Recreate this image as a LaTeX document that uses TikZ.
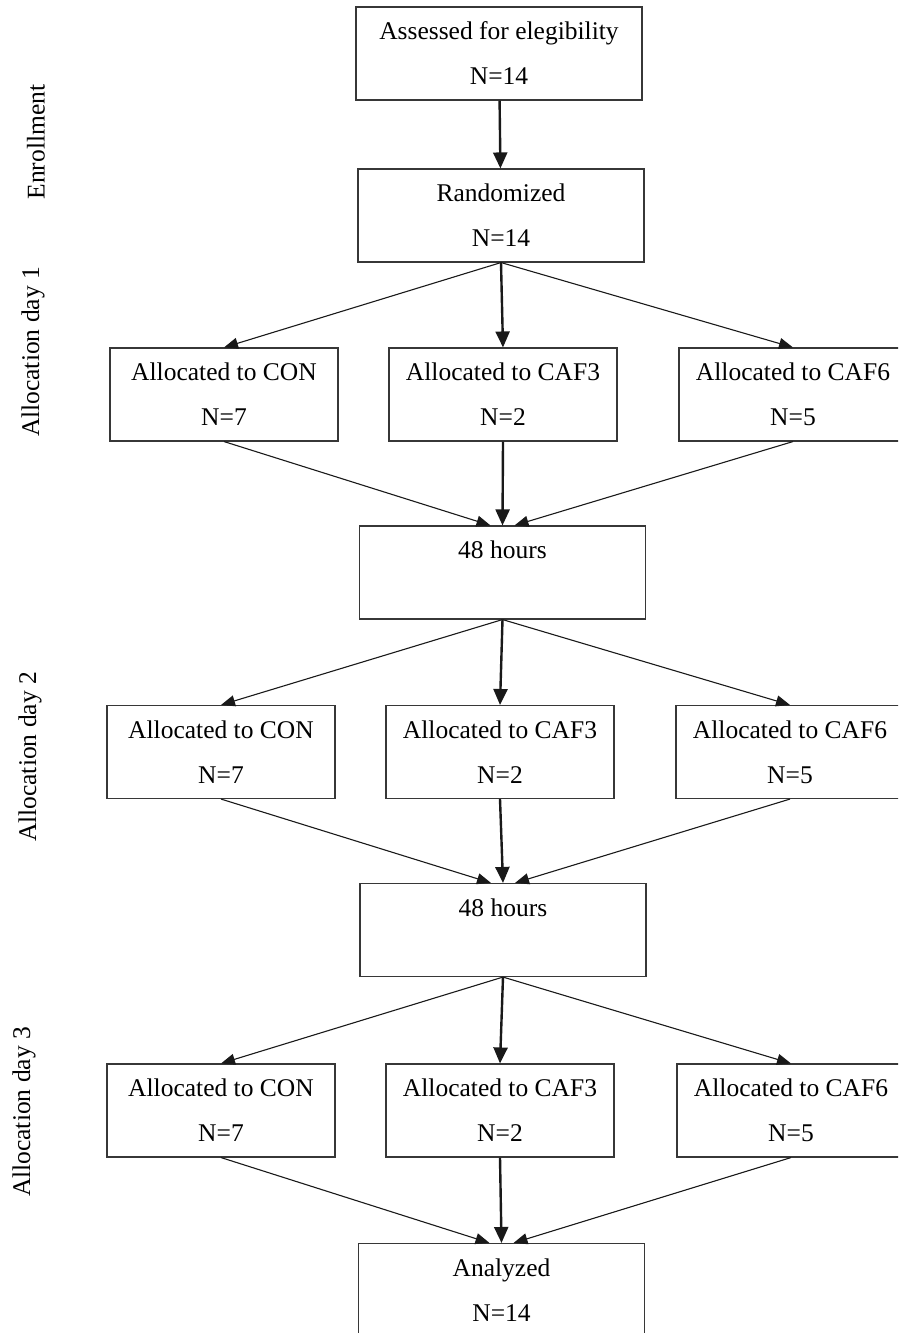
\documentclass[tikz,border=0pt]{standalone}
\usepackage{fontspec}
\setmainfont{Liberation Serif}
\usetikzlibrary{arrows.meta, positioning}
\definecolor{boxline}{RGB}{55,55,55}
\definecolor{arrowcolor}{RGB}{25,25,25}

\begin{document}
\begin{tikzpicture}[
    x=1pt, y=-1pt,
    stage/.style={draw=boxline, line width=1.1pt, minimum width=#1, minimum height=93pt, inner sep=0pt, align=center, font=\fontsize{25.5}{45}\selectfont},
    stage/.default=286pt,
    arm/.style={stage=228pt},
    phase/.style={rotate=90, font=\fontsize{25.5}{30}\selectfont},
    link/.style={draw=arrowcolor, line width=1.1pt, -{Triangle[length=14pt,width=11pt]}},
    mainlink/.style={draw=arrowcolor, line width=2.4pt, -{Triangle[length=16pt,width=14pt]}}
]
    \useasboundingbox (0,0) rectangle (898,1333);
    \clip (0,0) rectangle (898,1333);

    % Phases
    \node[phase] (enroll) at (36,142) {Enrollment};
    \node[phase] (day1) at (33,352) {Allocation day 1};
    \node[phase] (day2) at (30,757) {Allocation day 2};
    \node[phase] (day3) at (24,1112) {Allocation day 3};

    % Enrollment
    \node[stage] (assess) at (499,53.5) {Assessed for elegibility\\N=14};
    \node[stage] (rand) at (501,215.5) {Randomized\\N=14};

    % Day 1
    \node[arm] (cona) at (224,394.5) {Allocated to CON\\N=7};
    \node[arm] (cafthreea) at (503,394.5) {Allocated to CAF3\\N=2};
    \node[arm] (cafsixa) at (793,394.5) {Allocated to CAF6\\N=5};
    \node[stage] (waita) at (502.5,572.5) {48 hours\\\mbox{}};

    % Day 2
    \node[arm] (conb) at (221,752) {Allocated to CON\\N=7};
    \node[arm] (cafthreeb) at (500,752) {Allocated to CAF3\\N=2};
    \node[arm] (cafsixb) at (790,752) {Allocated to CAF6\\N=5};
    \node[stage] (waitb) at (503,930) {48 hours\\\mbox{}};

    % Day 3
    \node[arm] (conc) at (221,1110.5) {Allocated to CON\\N=7};
    \node[arm] (cafthreec) at (500,1110.5) {Allocated to CAF3\\N=2};
    \node[arm] (cafsixc) at (791,1110.5) {Allocated to CAF6\\N=5};
    \node[stage] (analyzed) at (501.5,1290) {Analyzed\\N=14};

    % Connections
    \draw[mainlink] (assess) -- (rand);
    \draw[link] (rand.south) -- (cona.north);
    \draw[mainlink] (rand.south) -- (cafthreea.north);
    \draw[link] (rand.south) -- (cafsixa.north);
    \draw[link] (cona.south) -- ([xshift=-12pt]waita.north);
    \draw[mainlink] (cafthreea.south) -- (waita.north);
    \draw[link] (cafsixa.south) -- ([xshift=12pt]waita.north);
    \draw[link] (waita.south) -- (conb.north);
    \draw[mainlink] (waita.south) -- (cafthreeb.north);
    \draw[link] (waita.south) -- (cafsixb.north);
    \draw[link] (conb.south) -- ([xshift=-12pt]waitb.north);
    \draw[mainlink] (cafthreeb.south) -- (waitb.north);
    \draw[link] (cafsixb.south) -- ([xshift=12pt]waitb.north);
    \draw[link] (waitb.south) -- (conc.north);
    \draw[mainlink] (waitb.south) -- (cafthreec.north);
    \draw[link] (waitb.south) -- (cafsixc.north);
    \draw[link] (conc.south) -- ([xshift=-12pt]analyzed.north);
    \draw[mainlink] (cafthreec.south) -- (analyzed.north);
    \draw[link] (cafsixc.south) -- ([xshift=12pt]analyzed.north);
\end{tikzpicture}
\end{document}
